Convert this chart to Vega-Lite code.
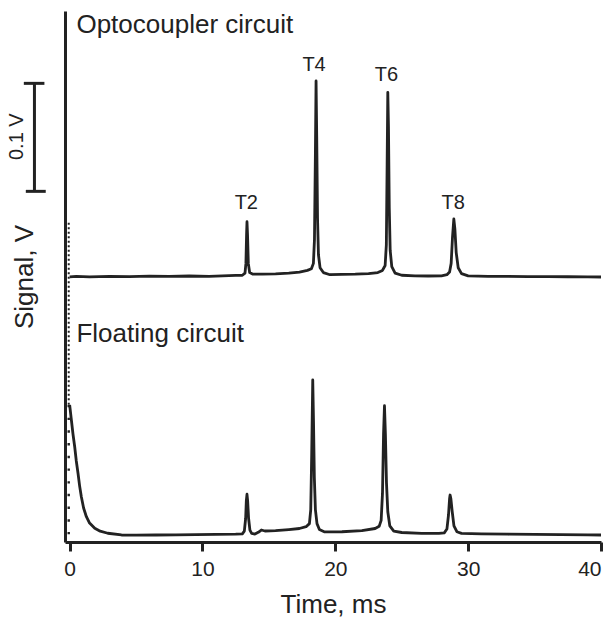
{
  "$schema": "https://vega.github.io/schema/vega-lite/v6.json",
  "width": 536,
  "height": 531,
  "autosize": {"type": "none"},
  "padding": {"left": 65, "top": 11, "right": 12, "bottom": 75},
  "config": {
    "view": {"stroke": null},
    "font": "Liberation Sans",
    "axis": {"grid": false, "domainColor": "#222", "tickColor": "#222", "labelColor": "#222", "titleColor": "#222", "titleFontWeight": "normal", "labelFont": "Liberation Sans", "titleFont": "Liberation Sans"}
  },
  "datasets": {
    "traces": [
      {"t": 0.0, "v": 245.5, "s": "opto"}, {"t": 0.5, "v": 246, "s": "opto"}, {"t": 1.5, "v": 245.5, "s": "opto"}, {"t": 3, "v": 246, "s": "opto"},
      {"t": 4.5, "v": 245.8, "s": "opto"}, {"t": 6, "v": 246.2, "s": "opto"}, {"t": 7.5, "v": 245.9, "s": "opto"}, {"t": 9, "v": 246.3, "s": "opto"},
      {"t": 10.5, "v": 246, "s": "opto"}, {"t": 11.5, "v": 246.5, "s": "opto"}, {"t": 12.5, "v": 246.8, "s": "opto"}, {"t": 13.0, "v": 247, "s": "opto"},
      {"t": 13.2, "v": 249, "s": "opto"}, {"t": 13.27, "v": 258, "s": "opto"}, {"t": 13.32, "v": 285, "s": "opto"}, {"t": 13.35, "v": 296.6, "s": "opto"},
      {"t": 13.39, "v": 285, "s": "opto"}, {"t": 13.45, "v": 258, "s": "opto"}, {"t": 13.55, "v": 249.5, "s": "opto"}, {"t": 13.8, "v": 248, "s": "opto"},
      {"t": 14.5, "v": 248, "s": "opto"}, {"t": 15.5, "v": 248.3, "s": "opto"}, {"t": 16.5, "v": 249, "s": "opto"}, {"t": 17.3, "v": 250, "s": "opto"},
      {"t": 17.9, "v": 251.5, "s": "opto"}, {"t": 18.2, "v": 253, "s": "opto"}, {"t": 18.35, "v": 258, "s": "opto"}, {"t": 18.43, "v": 280, "s": "opto"},
      {"t": 18.5, "v": 360, "s": "opto"}, {"t": 18.55, "v": 426.9, "s": "opto"}, {"t": 18.6, "v": 375, "s": "opto"}, {"t": 18.66, "v": 300, "s": "opto"},
      {"t": 18.73, "v": 266, "s": "opto"}, {"t": 18.85, "v": 254, "s": "opto"}, {"t": 19.1, "v": 249.5, "s": "opto"}, {"t": 19.6, "v": 247.5, "s": "opto"},
      {"t": 20.5, "v": 247.8, "s": "opto"}, {"t": 21.5, "v": 248, "s": "opto"}, {"t": 22.5, "v": 248.5, "s": "opto"}, {"t": 23.2, "v": 249.5, "s": "opto"},
      {"t": 23.55, "v": 251.5, "s": "opto"}, {"t": 23.75, "v": 256, "s": "opto"}, {"t": 23.84, "v": 275, "s": "opto"}, {"t": 23.9, "v": 350, "s": "opto"},
      {"t": 23.95, "v": 416.4, "s": "opto"}, {"t": 24.0, "v": 385, "s": "opto"}, {"t": 24.06, "v": 310, "s": "opto"}, {"t": 24.13, "v": 270, "s": "opto"},
      {"t": 24.25, "v": 255, "s": "opto"}, {"t": 24.5, "v": 249, "s": "opto"}, {"t": 25, "v": 247, "s": "opto"}, {"t": 26, "v": 246.5, "s": "opto"},
      {"t": 27, "v": 246.3, "s": "opto"}, {"t": 28, "v": 246.5, "s": "opto"}, {"t": 28.4, "v": 247.5, "s": "opto"}, {"t": 28.6, "v": 250, "s": "opto"},
      {"t": 28.72, "v": 258, "s": "opto"}, {"t": 28.82, "v": 282, "s": "opto"}, {"t": 28.92, "v": 299.1, "s": "opto"}, {"t": 29.0, "v": 290, "s": "opto"},
      {"t": 29.1, "v": 268, "s": "opto"}, {"t": 29.25, "v": 254, "s": "opto"}, {"t": 29.5, "v": 248.5, "s": "opto"}, {"t": 30, "v": 246.5, "s": "opto"},
      {"t": 31.5, "v": 246, "s": "opto"}, {"t": 33, "v": 246, "s": "opto"}, {"t": 34.5, "v": 245.8, "s": "opto"}, {"t": 36, "v": 245.8, "s": "opto"},
      {"t": 37.5, "v": 245.6, "s": "opto"}, {"t": 39, "v": 245.5, "s": "opto"}, {"t": 40, "v": 245.4, "s": "opto"},
      {"t": 0.0, "v": 126.9, "s": "float"}, {"t": 0.13, "v": 113, "s": "float"}, {"t": 0.25, "v": 100, "s": "float"}, {"t": 0.38, "v": 88.2, "s": "float"},
      {"t": 0.5, "v": 75, "s": "float"}, {"t": 0.63, "v": 63.6, "s": "float"}, {"t": 0.75, "v": 52, "s": "float"}, {"t": 0.88, "v": 41.9, "s": "float"},
      {"t": 1.05, "v": 31.5, "s": "float"}, {"t": 1.26, "v": 23.4, "s": "float"}, {"t": 1.5, "v": 17.5, "s": "float"}, {"t": 1.89, "v": 12.7, "s": "float"},
      {"t": 2.3, "v": 10, "s": "float"}, {"t": 2.87, "v": 8.1, "s": "float"}, {"t": 3.9, "v": 6.5, "s": "float"}, {"t": 5, "v": 6.3, "s": "float"},
      {"t": 6.5, "v": 6.5, "s": "float"}, {"t": 8, "v": 6.6, "s": "float"}, {"t": 9.5, "v": 6.8, "s": "float"}, {"t": 11, "v": 7, "s": "float"},
      {"t": 12.5, "v": 7.2, "s": "float"}, {"t": 13.0, "v": 7.5, "s": "float"}, {"t": 13.15, "v": 10, "s": "float"}, {"t": 13.25, "v": 22, "s": "float"},
      {"t": 13.3, "v": 38, "s": "float"}, {"t": 13.35, "v": 44.2, "s": "float"}, {"t": 13.4, "v": 38, "s": "float"}, {"t": 13.47, "v": 22, "s": "float"},
      {"t": 13.57, "v": 11, "s": "float"}, {"t": 13.7, "v": 8, "s": "float"}, {"t": 13.95, "v": 7.4, "s": "float"}, {"t": 14.2, "v": 9, "s": "float"},
      {"t": 14.43, "v": 11.1, "s": "float"}, {"t": 14.7, "v": 10.2, "s": "float"}, {"t": 15.5, "v": 10.5, "s": "float"}, {"t": 16.5, "v": 11.5, "s": "float"},
      {"t": 17.3, "v": 12.5, "s": "float"}, {"t": 17.8, "v": 14.2, "s": "float"}, {"t": 18.05, "v": 17, "s": "float"}, {"t": 18.15, "v": 30, "s": "float"},
      {"t": 18.22, "v": 80, "s": "float"}, {"t": 18.3, "v": 150, "s": "float"}, {"t": 18.36, "v": 110, "s": "float"}, {"t": 18.42, "v": 60, "s": "float"},
      {"t": 18.5, "v": 30, "s": "float"}, {"t": 18.62, "v": 17, "s": "float"}, {"t": 18.8, "v": 11.5, "s": "float"}, {"t": 19.2, "v": 9.3, "s": "float"},
      {"t": 20.5, "v": 9.5, "s": "float"}, {"t": 22, "v": 10.5, "s": "float"}, {"t": 23, "v": 12.5, "s": "float"}, {"t": 23.3, "v": 14.5, "s": "float"},
      {"t": 23.45, "v": 20, "s": "float"}, {"t": 23.55, "v": 45, "s": "float"}, {"t": 23.63, "v": 100, "s": "float"}, {"t": 23.7, "v": 126.2, "s": "float"},
      {"t": 23.77, "v": 100, "s": "float"}, {"t": 23.85, "v": 55, "s": "float"}, {"t": 23.95, "v": 28, "s": "float"}, {"t": 24.1, "v": 15, "s": "float"},
      {"t": 24.4, "v": 10, "s": "float"}, {"t": 25, "v": 8.8, "s": "float"}, {"t": 26.5, "v": 8, "s": "float"}, {"t": 27.8, "v": 8, "s": "float"},
      {"t": 28.2, "v": 8.5, "s": "float"}, {"t": 28.4, "v": 12, "s": "float"}, {"t": 28.52, "v": 25, "s": "float"}, {"t": 28.6, "v": 40, "s": "float"},
      {"t": 28.64, "v": 43.5, "s": "float"}, {"t": 28.7, "v": 40, "s": "float"}, {"t": 28.8, "v": 28, "s": "float"}, {"t": 28.93, "v": 15, "s": "float"},
      {"t": 29.15, "v": 9.5, "s": "float"}, {"t": 29.5, "v": 8, "s": "float"}, {"t": 31, "v": 7.5, "s": "float"}, {"t": 33, "v": 7.2, "s": "float"},
      {"t": 35, "v": 7, "s": "float"}, {"t": 37, "v": 6.8, "s": "float"}, {"t": 39, "v": 6.6, "s": "float"}, {"t": 40, "v": 6.5, "s": "float"}
    ],
    "dotsDense": [{"t": -0.07, "v": 295.6, "v2": 126.9}],
    "dotsSparse": [{"t": -0.07, "v": 126.9, "v2": 5}],
    "barV": [{"t": -2.65, "v": 424.7, "v2": 324.7}],
    "barCaps": [{"t": -3.45, "t2": -1.9, "v": 424.7}, {"t": -3.3, "t2": -1.8, "v": 324.7}],
    "peakLabels": [
      {"t": 13.3, "v": 314.2, "label": "T2"}, {"t": 18.4, "v": 441.7, "label": "T4"},
      {"t": 23.85, "v": 432.4, "label": "T6"}, {"t": 28.87, "v": 314.2, "label": "T8"}
    ],
    "circuitLabels": [
      {"t": 0.51, "v": 471.3, "label": "Optocoupler circuit"},
      {"t": 0.51, "v": 185.2, "label": "Floating circuit"}
    ],
    "barLabel": [{"t": -3.93, "v": 375.3, "label": "0.1 V"}]
  },
  "layer": [
    {
      "data": {"name": "traces"},
      "mark": {"type": "line", "color": "#222", "strokeWidth": 2.8, "strokeJoin": "round"},
      "encoding": {
        "x": {"field": "t", "type": "quantitative",
              "scale": {"domain": [-0.35, 40], "nice": false, "zero": false},
              "axis": {"values": [0, 10, 20, 30, 40], "title": "Time, ms", "titleFontSize": 26, "titlePadding": 12,
                       "labelFontSize": 21, "labelPadding": 7, "tickSize": 9, "tickWidth": 3, "domainWidth": 3}},
        "y": {"field": "v", "type": "quantitative",
              "scale": {"domain": [0, 491.7], "nice": false, "zero": false},
              "axis": {"ticks": false, "labels": false, "title": "Signal, V", "titleFontSize": 26, "titlePadding": 28, "domainWidth": 3}},
        "detail": {"field": "s"}
      }
    },
    {
      "data": {"name": "dotsDense"},
      "mark": {"type": "rule", "color": "#222", "strokeWidth": 2, "strokeDash": [2, 2.5]},
      "encoding": {"x": {"field": "t", "type": "quantitative"}, "y": {"field": "v", "type": "quantitative"}, "y2": {"field": "v2"}}
    },
    {
      "data": {"name": "dotsSparse"},
      "mark": {"type": "rule", "color": "#222", "strokeWidth": 2.4, "strokeDash": [2.4, 10.3]},
      "encoding": {"x": {"field": "t", "type": "quantitative"}, "y": {"field": "v", "type": "quantitative"}, "y2": {"field": "v2"}}
    },
    {
      "data": {"name": "barV"},
      "mark": {"type": "rule", "color": "#222", "strokeWidth": 3},
      "encoding": {"x": {"field": "t", "type": "quantitative"}, "y": {"field": "v", "type": "quantitative"}, "y2": {"field": "v2"}}
    },
    {
      "data": {"name": "barCaps"},
      "mark": {"type": "rule", "color": "#222", "strokeWidth": 3},
      "encoding": {"x": {"field": "t", "type": "quantitative"}, "x2": {"field": "t2"}, "y": {"field": "v", "type": "quantitative"}}
    },
    {
      "data": {"name": "peakLabels"},
      "mark": {"type": "text", "fontSize": 20, "color": "#222", "align": "center", "baseline": "middle", "font": "Liberation Sans"},
      "encoding": {"x": {"field": "t", "type": "quantitative"}, "y": {"field": "v", "type": "quantitative"}, "text": {"field": "label"}}
    },
    {
      "data": {"name": "circuitLabels"},
      "mark": {"type": "text", "fontSize": 26, "color": "#222", "align": "left", "baseline": "alphabetic", "font": "Liberation Sans"},
      "encoding": {"x": {"field": "t", "type": "quantitative"}, "y": {"field": "v", "type": "quantitative"}, "text": {"field": "label"}}
    },
    {
      "data": {"name": "barLabel"},
      "mark": {"type": "text", "fontSize": 20, "color": "#222", "align": "center", "baseline": "middle", "angle": 270, "font": "Liberation Sans"},
      "encoding": {"x": {"field": "t", "type": "quantitative"}, "y": {"field": "v", "type": "quantitative"}, "text": {"field": "label"}}
    }
  ]
}
